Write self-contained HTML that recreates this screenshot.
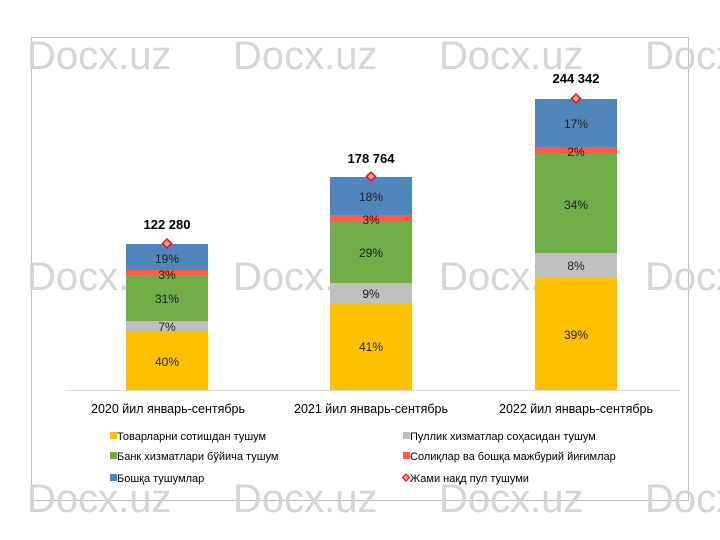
<!DOCTYPE html><html><head><meta charset="utf-8"><style>body{margin:0;background:#fff}svg{display:block}</style></head><body>
<svg width="720" height="540" xmlns="http://www.w3.org/2000/svg" font-family="Liberation Sans, Arial, sans-serif">
<rect x="31.5" y="37.5" width="657" height="463" fill="none" stroke="#bfbfbf"/>
<g fill="#d6d6d6" font-size="40">
<text x="27" y="69">Docx.uz</text><text x="233" y="69">Docx.uz</text><text x="439" y="69">Docx.uz</text><text x="645" y="69">Docx.uz</text>
<text x="27" y="290">Docx.uz</text><text x="233" y="290">Docx.uz</text><text x="439" y="290">Docx.uz</text><text x="645" y="290">Docx.uz</text>
<text x="27" y="512">Docx.uz</text><text x="233" y="512">Docx.uz</text><text x="439" y="512">Docx.uz</text><text x="645" y="512">Docx.uz</text>
</g>
<line x1="65" y1="390.5" x2="680" y2="390.5" stroke="#d9d9d9"/>
<g>
<rect x="126" y="331" width="82" height="59" fill="#FFC000"/><rect x="126" y="321" width="82" height="10" fill="#BFBFBF"/><rect x="126" y="275" width="82" height="46" fill="#70AD47"/><rect x="126" y="270" width="82" height="5" fill="#FF5B4A"/><rect x="126" y="244" width="82" height="26" fill="#4F86BB"/>
<rect x="330" y="303" width="82" height="87" fill="#FFC000"/><rect x="330" y="283" width="82" height="20" fill="#BFBFBF"/><rect x="330" y="221" width="82" height="62" fill="#70AD47"/><rect x="330" y="215" width="82" height="6" fill="#FF5B4A"/><rect x="330" y="177" width="82" height="38" fill="#4F86BB"/>
<rect x="535" y="278" width="82" height="112" fill="#FFC000"/><rect x="535" y="253" width="82" height="25" fill="#BFBFBF"/><rect x="535" y="154" width="82" height="99" fill="#70AD47"/><rect x="535" y="147" width="82" height="7" fill="#FF5B4A"/><rect x="535" y="99" width="82" height="48" fill="#4F86BB"/>
</g>
<g font-size="12" fill="#222" text-anchor="middle">
<text x="167" y="366">40%</text><text x="167" y="331">7%</text><text x="167" y="303">31%</text><text x="167" y="279">3%</text><text x="167" y="263">19%</text>
<text x="371" y="351">41%</text><text x="371" y="298">9%</text><text x="371" y="257">29%</text><text x="371" y="224">3%</text><text x="371" y="201">18%</text>
<text x="576" y="339">39%</text><text x="576" y="270">8%</text><text x="576" y="209">34%</text><text x="576" y="156">2%</text><text x="576" y="128">17%</text>
</g>
<g fill="#FF9999" stroke="#E8101A" stroke-width="1.5">
<path d="M167 239l4.5 4.5-4.5 4.5-4.5-4.5z"/><path d="M371 172l4.5 4.5-4.5 4.5-4.5-4.5z"/><path d="M576 94l4.5 4.5-4.5 4.5-4.5-4.5z"/>
</g>
<g font-size="13" font-weight="bold" text-anchor="middle" fill="#000">
<text x="167" y="229">122 280</text><text x="371" y="163">178 764</text><text x="576" y="83">244 342</text>
</g>
<g font-size="12.5" text-anchor="middle" fill="#000">
<text x="168" y="413">2020 йил январь-сентябрь</text><text x="371" y="413">2021 йил январь-сентябрь</text><text x="576" y="413">2022 йил январь-сентябрь</text>
</g>
<g font-size="11" fill="#000">
<rect x="110" y="432" width="7" height="7" fill="#FFC000"/><text x="117" y="440">Товарларни сотишдан тушум</text>
<rect x="110" y="452" width="7" height="7" fill="#70AD47"/><text x="117" y="460">Банк хизматлари бўйича тушум</text>
<rect x="110" y="474" width="7" height="7" fill="#4F86BB"/><text x="117" y="482">Бошқа тушумлар</text>
<rect x="403" y="432" width="7" height="7" fill="#BFBFBF"/><text x="410" y="440">Пуллик хизматлар соҳасидан тушум</text>
<rect x="403" y="452" width="7" height="7" fill="#FF5B4A"/><text x="410" y="460">Солиқлар ва бошқа мажбурий йиғимлар</text>
<path d="M406 474l3.5 3.5-3.5 3.5-3.5-3.5z" fill="#FF9999" stroke="#E8101A" stroke-width="1.2"/><text x="410" y="482">Жами нақд пул тушуми</text>
</g>
</svg></body></html>
